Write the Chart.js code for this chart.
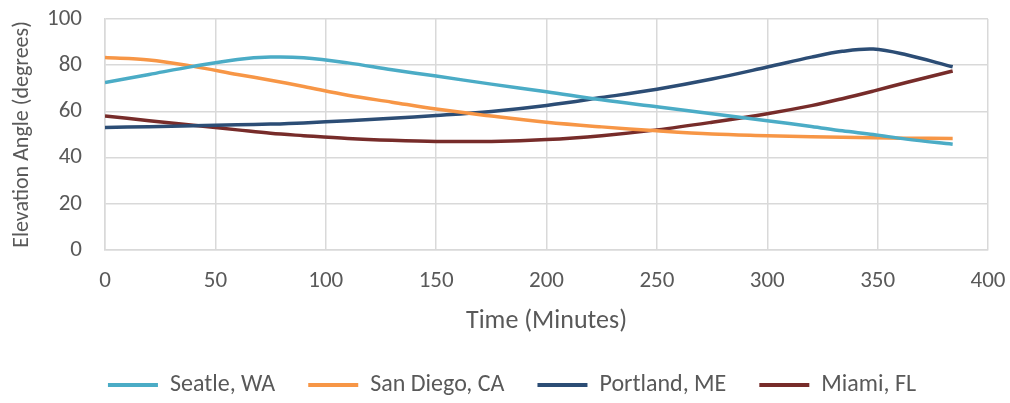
<!DOCTYPE html>
<html>
<head>
<meta charset="utf-8">
<script src="https://cdn.jsdelivr.net/npm/chart.js@4/dist/chart.umd.min.js"></script>
<style>
  html, body { margin: 0; padding: 0; background: #fff; }
  #wrap { width: 1010px; height: 403px; }
</style>
</head>
<body>
<div id="wrap"><canvas id="elevChart"></canvas></div>
<script>
// minutes since start
const minutes = [0, 20, 40, 60, 75, 90, 110, 130, 150, 175, 200, 225, 250, 275, 300, 320, 334, 348, 363, 384];

// elevation angles (degrees)
const seattle  = [72.5, 76, 79.5, 82.5, 83.5, 83.2, 81, 78, 75.3, 71.8, 68.5, 65, 62, 59, 56, 53.5, 51.6, 50, 48, 45.8];
const sanDiego = [83.3, 82.3, 79.5, 76, 73.5, 70.8, 67, 64, 61, 58, 55.3, 53.3, 51.6, 50.2, 49.5, 49, 48.8, 48.6, 48.4, 48.3];
const portland = [53, 53.4, 53.8, 54.2, 54.5, 55, 56, 57, 58.2, 60, 62.6, 66, 69.6, 74, 79.2, 83.5, 86, 87, 84.5, 79.3];
const miami    = [58, 56, 54, 52, 50.5, 49.5, 48.3, 47.5, 47, 47, 47.8, 49.5, 52, 55.3, 59, 62.5, 65.5, 68.8, 72.5, 77.5];

const seriesNames  = ["Seatle, WA", "San Diego, CA", "Portland, ME", "Miami, FL"];
const seriesColors = ["#4bacc6", "#f79646", "#2c4d75", "#772c2a"];
const seriesData   = [seattle, sanDiego, portland, miami];

const xTicks = [0, 50, 100, 150, 200, 250, 300, 350, 400];
const yTicks = [0, 20, 40, 60, 80, 100];

const FONT = 'Calibri, Carlito, "Open Sans", sans-serif';
const TEXT = "#595959";
const GRID = "#d9d9d9";

// the legend row counts the trailing padding, nudge it back to centre
const legendNudge = {
  id: "legendNudge",
  afterLayout(chart) {
    if (chart.legend && chart.legend.lineWidths) {
      chart.legend.lineWidths = chart.legend.lineWidths.map(w => w - 36);
    }
  }
};

function renderChart() {
  const ctx = document.getElementById("elevChart").getContext("2d");

  const datasets = seriesData.map((vals, i) => ({
    label: seriesNames[i],
    data: vals.map((v, j) => ({ x: minutes[j], y: v })),
    borderColor: seriesColors[i],
    backgroundColor: seriesColors[i],
    borderWidth: 3.5,
    pointRadius: 0,
    tension: 0.35,
    fill: false
  }));

  new Chart(ctx, {
    type: "line",
    data: { datasets: datasets },
    plugins: [legendNudge],
    options: {
      responsive: true,
      maintainAspectRatio: false,
      animation: false,
      layout: { padding: { left: 0, right: 22, top: 19, bottom: -4 } },
      scales: {
        x: {
          type: "linear",
          min: 0,
          max: 400,
          afterBuildTicks: axis => { axis.ticks = xTicks.map(v => ({ value: v })); },
          afterFit: axis => { axis.height = 90; axis.paddingLeft = 0; axis.paddingRight = 0; },
          grid: { color: GRID, lineWidth: 1.5, drawTicks: false },
          border: { color: GRID, width: 1.5 },
          ticks: { color: TEXT, font: { family: FONT, size: 23 }, padding: 17 },
          title: { display: true, text: "Time (Minutes)", color: TEXT, font: { family: FONT, size: 26 }, padding: { top: 9, bottom: 3 } }
        },
        y: {
          min: 0,
          max: 100,
          afterBuildTicks: axis => { axis.ticks = yTicks.map(v => ({ value: v })); },
          afterFit: axis => { axis.width = 105; axis.paddingTop = 0; axis.paddingBottom = 0; },
          grid: { color: GRID, lineWidth: 1.5, drawTicks: false },
          border: { color: GRID, width: 1.5 },
          ticks: { color: TEXT, font: { family: FONT, size: 23 }, padding: 23 },
          title: { display: true, text: "Elevation Angle (degrees)", color: TEXT, font: { family: FONT, size: 22 }, padding: { top: 9, bottom: 0 } }
        }
      },
      plugins: {
        legend: {
          position: "bottom",
          labels: {
            color: TEXT,
            font: { family: FONT, size: 24 },
            boxWidth: 50,
            boxHeight: 4,
            padding: 33,
            generateLabels: chart =>
              Chart.defaults.plugins.legend.labels.generateLabels(chart).map(l => ({ ...l, lineWidth: 0 }))
          }
        },
        tooltip: { enabled: false }
      }
    }
  });
}

renderChart();
</script>
</body>
</html>
